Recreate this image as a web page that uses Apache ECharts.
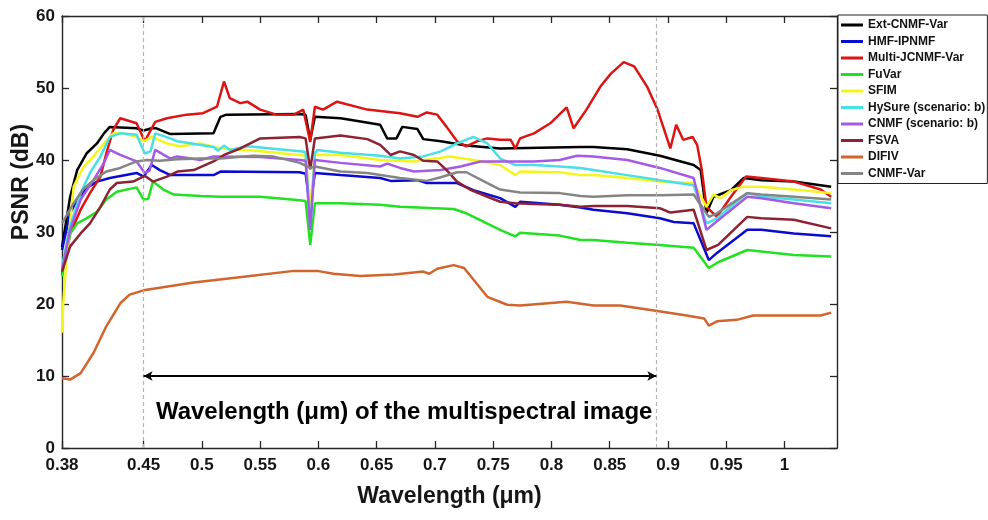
<!DOCTYPE html>
<html>
<head>
<meta charset="utf-8">
<script src="https://cdn.jsdelivr.net/npm/echarts@6/dist/echarts.min.js"></script>
<style>
  html, body { margin: 0; padding: 0; background: #fff; }
  #chart { width: 988px; height: 520px; }
</style>
</head>
<body>
<div id="chart"></div>
<script>
// ---- Data (wavelength in µm, PSNR in dB) ----
const seriesNames = ['Ext-CNMF-Var','HMF-IPNMF','Multi-JCNMF-Var','FuVar','SFIM','HySure (scenario: b)','CNMF (scenario: b)','FSVA','DIFIV','CNMF-Var'];
const xTickValues = [0.38,0.45,0.5,0.55,0.6,0.65,0.7,0.75,0.8,0.85,0.9,0.95,1];
const msBandStart = 0.45;
const msBandEnd = 0.89;
const arrowLevel = 10;
const annotationText = 'Wavelength (μm) of the multispectral image';
const annotationPos = [0.6736, 4.9];

const extCnmfVar = [[0.380,27.9],[0.387,34.9],[0.393,38.6],[0.401,40.9],[0.410,42.3],[0.416,43.7],[0.421,44.6],[0.444,44.4],[0.450,44.1],[0.457,44.4],[0.461,44.4],[0.473,43.6],[0.510,43.7],[0.516,46.0],[0.521,46.3],[0.584,46.4],[0.589,46.3],[0.593,42.8],[0.597,46.0],[0.619,45.8],[0.627,45.6],[0.653,44.9],[0.659,43.0],[0.667,43.0],[0.672,44.6],[0.685,44.3],[0.690,42.9],[0.705,42.6],[0.727,42.0],[0.756,41.6],[0.790,41.7],[0.825,41.8],[0.836,41.8],[0.865,41.5],[0.893,40.6],[0.922,39.3],[0.928,38.6],[0.933,32.6],[0.939,34.9],[0.954,35.8],[0.965,37.5],[0.980,37.2],[1.008,37.0],[1.040,36.3]];
const hmfIpnmf = [[0.380,27.5],[0.387,32.6],[0.393,34.5],[0.401,36.1],[0.410,37.0],[0.421,37.5],[0.444,38.2],[0.450,37.7],[0.457,39.3],[0.464,38.6],[0.473,37.9],[0.510,37.9],[0.516,38.4],[0.584,38.3],[0.589,38.1],[0.593,33.5],[0.597,38.2],[0.619,37.9],[0.653,37.5],[0.662,37.1],[0.685,37.2],[0.693,36.8],[0.719,36.8],[0.733,35.8],[0.756,34.7],[0.769,33.5],[0.773,34.2],[0.807,33.8],[0.825,33.4],[0.836,33.1],[0.865,32.6],[0.893,31.9],[0.905,31.4],[0.922,31.2],[0.935,26.1],[0.942,27.1],[0.968,30.3],[0.980,30.3],[1.008,29.8],[1.040,29.4]];
const multiJcnmfVar = [[0.380,24.1],[0.387,29.8],[0.396,33.1],[0.404,35.4],[0.413,37.7],[0.418,40.9],[0.424,44.2],[0.430,45.8],[0.444,45.1],[0.451,42.6],[0.460,45.3],[0.470,45.8],[0.487,46.3],[0.501,46.5],[0.513,47.4],[0.519,50.9],[0.524,48.6],[0.533,47.9],[0.539,48.1],[0.550,47.0],[0.564,46.3],[0.579,46.3],[0.587,47.0],[0.593,42.5],[0.597,47.4],[0.604,47.0],[0.616,48.1],[0.642,47.0],[0.670,46.5],[0.685,46.0],[0.693,46.6],[0.702,46.3],[0.710,44.6],[0.719,42.6],[0.727,41.9],[0.736,42.6],[0.745,43.0],[0.756,42.8],[0.765,42.8],[0.769,41.6],[0.773,43.0],[0.785,43.7],[0.799,45.1],[0.813,47.3],[0.819,44.4],[0.830,47.0],[0.842,50.2],[0.851,52.0],[0.862,53.6],[0.871,53.0],[0.882,50.2],[0.891,47.0],[0.902,41.6],[0.907,44.9],[0.913,42.8],[0.921,43.2],[0.925,42.1],[0.929,38.6],[0.933,33.5],[0.942,32.1],[0.954,34.9],[0.967,37.7],[0.980,37.5],[1.008,37.0],[1.031,35.9],[1.040,34.9]];
const fuVar = [[0.380,23.8],[0.387,29.8],[0.393,31.2],[0.401,31.9],[0.410,32.8],[0.418,34.5],[0.427,35.6],[0.444,36.2],[0.450,34.5],[0.454,34.6],[0.458,37.0],[0.467,35.9],[0.476,35.2],[0.499,35.0],[0.516,34.9],[0.550,34.9],[0.584,34.4],[0.589,34.3],[0.593,28.2],[0.597,34.0],[0.619,34.0],[0.653,33.8],[0.670,33.5],[0.716,33.2],[0.727,32.6],[0.756,30.3],[0.769,29.4],[0.773,29.9],[0.807,29.5],[0.825,28.9],[0.836,28.9],[0.865,28.5],[0.893,28.2],[0.922,27.8],[0.935,25.0],[0.943,25.8],[0.968,27.5],[0.980,27.3],[1.008,26.8],[1.040,26.6]];
const sfim = [[0.380,16.0],[0.381,20.0],[0.384,26.6],[0.390,36.3],[0.398,38.9],[0.407,40.5],[0.416,42.3],[0.424,43.7],[0.433,43.7],[0.444,43.2],[0.450,42.6],[0.457,43.2],[0.470,42.3],[0.481,41.9],[0.499,42.3],[0.516,41.6],[0.539,41.4],[0.584,40.7],[0.589,40.6],[0.593,33.0],[0.597,40.7],[0.619,40.7],[0.653,40.0],[0.682,39.8],[0.713,40.5],[0.733,40.0],[0.756,39.3],[0.769,37.9],[0.773,38.4],[0.807,38.3],[0.825,37.9],[0.836,37.9],[0.865,37.5],[0.893,37.0],[0.922,36.8],[0.933,33.5],[0.939,35.2],[0.945,34.7],[0.954,35.8],[0.965,36.3],[0.980,36.3],[1.008,35.9],[1.040,35.4]];
const hySure = [[0.380,25.2],[0.387,30.8],[0.396,35.4],[0.404,38.2],[0.413,40.5],[0.421,43.2],[0.430,43.7],[0.444,43.5],[0.451,40.9],[0.456,41.2],[0.460,43.7],[0.473,43.0],[0.479,42.6],[0.510,41.8],[0.514,41.3],[0.519,42.0],[0.524,41.4],[0.539,41.9],[0.584,41.2],[0.589,41.1],[0.593,30.5],[0.597,40.9],[0.599,41.4],[0.619,41.0],[0.653,40.6],[0.670,40.2],[0.690,40.5],[0.705,41.2],[0.719,42.3],[0.733,43.2],[0.745,42.3],[0.756,40.2],[0.769,39.3],[0.785,39.3],[0.807,39.1],[0.825,38.9],[0.836,38.6],[0.865,37.9],[0.893,37.2],[0.922,36.5],[0.933,31.2],[0.942,31.9],[0.968,35.4],[0.980,34.9],[1.008,34.5],[1.040,34.0]];
const cnmf = [[0.380,24.7],[0.387,30.3],[0.396,34.5],[0.407,37.2],[0.416,39.6],[0.421,41.4],[0.430,40.7],[0.444,39.8],[0.451,38.2],[0.455,38.5],[0.460,41.4],[0.473,40.2],[0.479,40.5],[0.499,40.0],[0.510,40.5],[0.550,40.4],[0.584,40.0],[0.589,39.9],[0.593,30.3],[0.597,40.0],[0.619,39.6],[0.653,39.1],[0.659,39.5],[0.670,38.9],[0.682,38.4],[0.705,38.6],[0.722,39.1],[0.739,39.8],[0.785,39.8],[0.807,40.0],[0.822,40.6],[0.836,40.5],[0.865,40.0],[0.893,38.9],[0.922,37.5],[0.933,30.3],[0.942,31.5],[0.968,34.9],[0.980,34.7],[1.008,34.0],[1.040,33.3]];
const fsva = [[0.380,24.5],[0.387,28.0],[0.396,29.8],[0.404,31.2],[0.413,33.5],[0.421,35.9],[0.427,36.8],[0.441,37.0],[0.451,37.8],[0.458,37.0],[0.470,37.7],[0.479,38.4],[0.493,38.6],[0.510,39.8],[0.519,40.7],[0.533,41.6],[0.550,43.0],[0.584,43.2],[0.589,43.0],[0.593,38.7],[0.597,43.0],[0.619,43.4],[0.642,42.9],[0.653,42.1],[0.662,40.7],[0.670,41.2],[0.682,40.7],[0.690,39.9],[0.702,39.8],[0.710,38.6],[0.719,37.0],[0.730,35.9],[0.745,34.9],[0.756,34.2],[0.769,34.0],[0.785,33.9],[0.807,33.8],[0.825,33.5],[0.836,33.6],[0.865,33.6],[0.893,33.3],[0.902,32.7],[0.922,33.1],[0.933,27.5],[0.943,28.2],[0.968,32.1],[0.980,31.9],[1.008,31.7],[1.040,30.5]];
const difiv = [[0.380,9.7],[0.387,9.5],[0.396,10.4],[0.407,13.2],[0.418,16.9],[0.430,20.1],[0.438,21.3],[0.450,21.9],[0.493,23.0],[0.536,23.8],[0.579,24.6],[0.599,24.6],[0.613,24.2],[0.636,23.9],[0.665,24.1],[0.690,24.5],[0.695,24.2],[0.702,24.9],[0.716,25.4],[0.725,25.0],[0.745,21.0],[0.762,19.9],[0.773,19.8],[0.813,20.3],[0.836,19.8],[0.859,19.8],[0.888,19.1],[0.916,18.4],[0.931,18.0],[0.935,17.0],[0.942,17.6],[0.959,17.8],[0.973,18.4],[1.002,18.4],[1.031,18.4],[1.040,18.8]];
const cnmfVar = [[0.380,31.2],[0.390,34.0],[0.398,35.9],[0.407,37.2],[0.418,38.4],[0.430,38.9],[0.444,39.8],[0.453,40.0],[0.464,39.9],[0.479,40.1],[0.499,40.2],[0.516,40.2],[0.544,40.6],[0.561,40.5],[0.584,39.6],[0.593,38.9],[0.597,39.1],[0.619,38.4],[0.642,38.2],[0.670,37.5],[0.693,37.1],[0.705,37.6],[0.719,38.3],[0.727,38.3],[0.745,36.8],[0.756,35.9],[0.773,35.5],[0.807,35.4],[0.825,35.0],[0.836,34.9],[0.865,35.1],[0.893,35.1],[0.922,35.2],[0.935,32.1],[0.942,32.6],[0.968,35.4],[0.980,35.2],[1.008,34.9],[1.040,34.5]];

const seriesData = [extCnmfVar, hmfIpnmf, multiJcnmfVar, fuVar, sfim, hySure, cnmf, fsva, difiv, cnmfVar];
const seriesColors = ['#000000','#0a0ad2','#dc1414','#22e022','#f5f51e','#48e0e6','#a55ae6','#8c2234','#d2642d','#858585'];

const FONT = '"Liberation Sans", Arial, sans-serif';
const AXIS_COLOR = '#262626';
const TEXT_COLOR = '#161616';

const chart = echarts.init(document.getElementById('chart'), null, { renderer: 'canvas' });

const lineSeries = seriesNames.map((name, i) => ({
  name: name,
  type: 'line',
  data: seriesData[i],
  xAxisIndex: 0,
  yAxisIndex: 0,
  showSymbol: false,
  symbol: 'none',
  smooth: false,
  z: 3,
  lineStyle: { color: seriesColors[i], width: 2.5 },
  itemStyle: { color: seriesColors[i] },
  emphasis: { disabled: true },
  animation: false
}));

const annotationSeries = [
  {
    name: '__bandLines',
    type: 'line',
    data: [],
    silent: true,
    z: 1,
    markLine: {
      silent: true,
      symbol: 'none',
      animation: false,
      label: { show: false },
      lineStyle: { color: '#b4b4b4', width: 1.2, type: [4, 3] },
      data: [{ xAxis: msBandStart }, { xAxis: msBandEnd }]
    }
  },
  {
    name: '__arrow',
    type: 'line',
    data: [],
    silent: true,
    z: 4,
    markLine: {
      silent: true,
      symbol: ['arrow', 'arrow'],
      symbolSize: [7, 9],
      animation: false,
      label: { show: false },
      lineStyle: { color: '#000', width: 2, type: 'solid' },
      data: [[{ coord: [msBandStart, arrowLevel] }, { coord: [msBandEnd, arrowLevel] }]]
    },
    markPoint: {
      silent: true,
      animation: false,
      symbol: 'circle',
      symbolSize: 1,
      itemStyle: { color: 'rgba(0,0,0,0)' },
      label: {
        show: true,
        position: 'inside',
        formatter: annotationText,
        color: '#000',
        fontFamily: FONT,
        fontWeight: 'bold',
        fontSize: 24
      },
      data: [{ coord: annotationPos }]
    }
  }
];

const xFmt = v => String(Number(v.toFixed(2)));

const option = {
  backgroundColor: '#ffffff',
  animation: false,
  grid: { left: 62, right: 151, top: 16, bottom: 72, containLabel: false },
  legend: {
    data: seriesNames,
    orient: 'vertical',
    left: 838,
    top: 15,
    padding: [3, 2, 3, 3],
    icon: 'rect',
    itemWidth: 22,
    itemHeight: 3,
    itemGap: 2.5,
    borderColor: '#222',
    borderWidth: 1,
    backgroundColor: '#fff',
    selectedMode: false,
    textStyle: { fontFamily: FONT, fontWeight: 'bold', fontSize: 12, color: '#111', lineHeight: 14, height: 14 }
  },
  xAxis: [
    {
      type: 'value',
      min: 0.38,
      max: 1.045,
      position: 'bottom',
      name: 'Wavelength (μm)',
      nameLocation: 'middle',
      nameGap: 37,
      nameTextStyle: { fontFamily: FONT, fontWeight: 'bold', fontSize: 23, color: TEXT_COLOR },
      axisLine: { show: true, onZero: false, lineStyle: { color: AXIS_COLOR, width: 1.4 } },
      axisTick: { show: true, inside: true, length: 7, customValues: xTickValues, lineStyle: { color: AXIS_COLOR, width: 1.3 } },
      axisLabel: { show: true, customValues: xTickValues, margin: 9, formatter: xFmt, fontFamily: FONT, fontWeight: 'bold', fontSize: 17, color: TEXT_COLOR, showMinLabel: true, showMaxLabel: true },
      splitLine: { show: false }
    },
    {
      type: 'value',
      min: 0.38,
      max: 1.045,
      position: 'top',
      axisLine: { show: true, onZero: false, lineStyle: { color: AXIS_COLOR, width: 1.4 } },
      axisTick: { show: true, inside: true, length: 7, customValues: xTickValues, lineStyle: { color: AXIS_COLOR, width: 1.3 } },
      axisLabel: { show: false },
      splitLine: { show: false }
    }
  ],
  yAxis: [
    {
      type: 'value',
      min: 0,
      max: 60,
      interval: 10,
      position: 'left',
      axisLine: { show: true, onZero: false, lineStyle: { color: AXIS_COLOR, width: 1.4 } },
      axisTick: { show: true, inside: true, length: 7, lineStyle: { color: AXIS_COLOR, width: 1.3 } },
      axisLabel: { show: true, margin: 7, fontFamily: FONT, fontWeight: 'bold', fontSize: 17, color: TEXT_COLOR },
      splitLine: { show: false }
    },
    {
      type: 'value',
      min: 0,
      max: 60,
      interval: 10,
      position: 'right',
      axisLine: { show: true, onZero: false, lineStyle: { color: AXIS_COLOR, width: 1.4 } },
      axisTick: { show: true, inside: true, length: 7, lineStyle: { color: AXIS_COLOR, width: 1.3 } },
      axisLabel: { show: false },
      splitLine: { show: false }
    }
  ],
  graphic: [
    {
      type: 'text',
      x: 22,
      y: 182,
      rotation: Math.PI / 2,
      silent: true,
      style: {
        text: 'PSNR (dB)',
        font: 'bold 23px ' + FONT,
        fill: TEXT_COLOR,
        textAlign: 'center',
        textVerticalAlign: 'middle'
      }
    }
  ],
  series: annotationSeries.concat(lineSeries)
};

chart.setOption(option);
</script>
</body>
</html>
